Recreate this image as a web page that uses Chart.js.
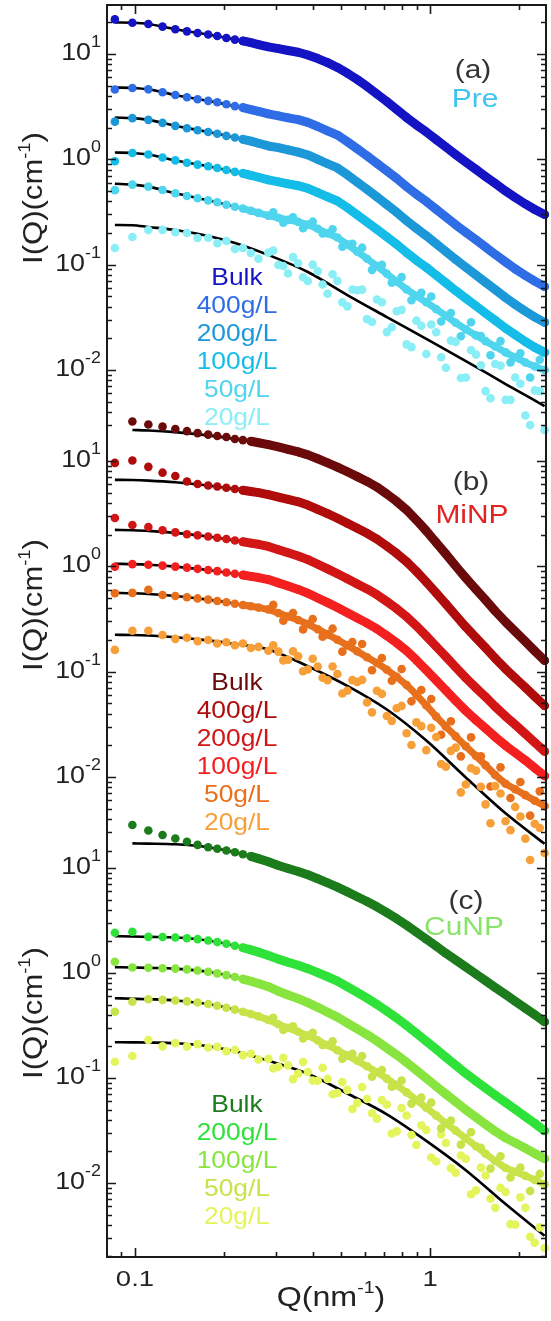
<!DOCTYPE html>
<html><head><meta charset="utf-8">
<script src="https://cdn.jsdelivr.net/npm/chart.js@4.4.1/dist/chart.umd.min.js"></script>
<style>html,body{margin:0;padding:0;background:#fff}#wrap{width:551px;height:1321px}</style>
</head><body><div id="wrap"><canvas id="c" width="551" height="1321"></canvas></div>
<script>
/* ---- data ---- */
const qGrid=[0.0855,0.098,0.111,0.124,0.137,0.150,0.163,0.177,0.190,0.204,0.218,0.232,0.247,0.262,0.283,0.306,0.330,0.357,0.385,0.416,0.449,0.485,0.524,0.566,0.611,0.660,0.713,0.770,0.832,0.898,0.970,1.048,1.13,1.22,1.32,1.43,1.54,1.66,1.80,1.94,2.10,2.26,2.44];
const qMid=[0.294,0.318,0.343,0.371,0.400,0.432,0.467,0.504,0.545,0.588,0.635,0.686,0.741,0.800,0.864,0.933,1.008,1.089,1.175,1.27,1.375,1.485,1.60,1.73,1.87,2.02,2.18,2.35];
const qFit=[0.0855,0.098,0.111,0.137,0.177,0.218,0.283,0.385,0.524,0.713,0.970,1.32,1.80,2.44];

// (a) Pre
const aBulk=[21.3,19.8,19.3,18.2,17.2,16.4,15.8,15.3,14.8,14.2,13.7,13.3,12.8,12.3,11.7,11.25,10.8,10.4,9.78,9.05,8.28,7.45,6.57,5.73,4.92,4.17,3.54,2.97,2.49,2.12,1.82,1.54,1.31,1.11,0.943,0.801,0.687,0.59,0.5,0.434,0.377,0.334,0.299];
const a400=[4.6,4.76,4.62,4.34,4.08,3.88,3.72,3.59,3.48,3.33,3.2,3.1,2.97,2.85,2.7,2.59,2.48,2.38,2.24,2.05,1.86,1.7,1.47,1.26,1.08,0.916,0.778,0.659,0.55,0.466,0.398,0.335,0.284,0.239,0.203,0.172,0.147,0.125,0.106,0.0912,0.0789,0.0697,0.0619];
const a200=[2.28,2.46,2.37,2.22,2.08,1.97,1.89,1.82,1.75,1.67,1.61,1.55,1.49,1.42,1.34,1.29,1.23,1.17,1.1,1.0,0.908,0.828,0.713,0.607,0.518,0.44,0.372,0.314,0.261,0.221,0.188,0.158,0.133,0.112,0.0945,0.0797,0.0679,0.0579,0.0486,0.0419,0.0361,0.0318,0.0283];
const a100=[0.96,1.15,1.11,1.04,0.977,0.929,0.891,0.859,0.827,0.791,0.76,0.736,0.705,0.676,0.638,0.612,0.585,0.562,0.531,0.483,0.44,0.402,0.348,0.297,0.254,0.216,0.184,0.156,0.13,0.11,0.0942,0.0794,0.0672,0.0566,0.0479,0.0405,0.0346,0.0296,0.0249,0.0216,0.0186,0.0164,0.0147];
const a50=[0.51,0.575,0.551,0.511,0.476,0.448,0.427,0.408,0.391,0.371,0.355,0.341,0.325,0.31,0.292,0.279,0.266,0.255,0.24,0.219,0.198,0.181,0.156,0.133,0.114,0.0968,0.082,0.0693,0.0582,0.0504,0.044,0.0378,0.0327,0.0281,0.0243,0.0213,0.0188,0.0167,0.0147,0.0132,0.0118,0.0108,0.01];
const a50x=[0.314,0.25,0.281,0.222,0.256,0.198,0.217,0.148,0.158,0.145,0.0893,0.0997,0.0675,0.0762,0.0459,0.054,0.0498,0.0289,0.0348,0.0209,0.0284,0.021,0.0138,0.0188,0.0118,0.0144,0.0085,0.0125];
const a20=[0.144,0.183,0.213,0.214,0.203,0.2,0.179,0.18,0.16,0.168,0.141,0.144,0.129,0.114,0.13,0.0994,0.0824,0.103,0.0699,0.0864,0.053,0.0702,0.0402,0.0571,0.0304,0.0467,0.0229,0.0361,0.0175,0.0294,0.0142,0.0228,0.0105,0.0185,0.0085,0.014,0.0063,0.0114,0.0052,0.0085,0.0037,0.0064,0.0027];
const a20x=[0.136,0.0972,0.118,0.0759,0.1,0.0649,0.081,0.0439,0.0582,0.058,0.0286,0.0439,0.0255,0.0372,0.0165,0.0263,0.027,0.0132,0.019,0.0084,0.0154,0.0111,0.0054,0.011,0.0052,0.0074,0.003,0.0063];
const aFit=[
 [19.9,19.8,19.3,17.2,15.3,13.7,11.7,9.78,6.57,3.54,1.82,0.943,0.5,0.299],
 [4.8,4.76,4.62,4.08,3.59,3.2,2.7,2.24,1.47,0.778,0.398,0.203,0.106,0.0619],
 [2.49,2.46,2.37,2.08,1.82,1.61,1.34,1.1,0.713,0.372,0.188,0.0945,0.0486,0.0283],
 [1.16,1.15,1.11,0.977,0.859,0.76,0.638,0.531,0.348,0.184,0.0942,0.0479,0.0249,0.0147],
 [0.587,0.575,0.551,0.476,0.408,0.355,0.292,0.24,0.156,0.082,0.044,0.0243,0.0147,0.01],
 [0.238,0.237,0.228,0.2134,0.187,0.1606,0.1235,0.0852,0.0515,0.0318,0.0197,0.01217,0.00736,0.00455]];

// (b) MiNP
const bBulk=[null,23.7,22.2,21.2,20.1,19.2,18.4,17.8,17.3,16.9,16.2,15.8,15.4,14.9,14.3,13.6,12.9,12.2,11.45,10.5,9.61,8.75,7.9,7.11,6.4,5.66,4.86,4.13,3.43,2.75,2.17,1.68,1.31,1.007,0.775,0.603,0.479,0.377,0.296,0.2405,0.1933,0.157,0.1276];
const b400=[9.6,10.1,8.8,7.75,7.2,6.4,6.05,5.86,5.72,5.57,5.42,5.28,5.14,5.01,4.8,4.55,4.33,4.1,3.82,3.47,3.16,2.86,2.56,2.296,2.058,1.816,1.558,1.326,1.106,0.895,0.71,0.559,0.44,0.342,0.266,0.2094,0.1684,0.1339,0.1062,0.0871,0.0707,0.058,0.0475];
const b200=[2.88,2.47,2.36,2.2,2.1,2.02,1.97,1.92,1.87,1.82,1.76,1.71,1.66,1.62,1.544,1.438,1.346,1.254,1.158,1.047,0.946,0.851,0.761,0.681,0.61,0.538,0.463,0.396,0.3325,0.2716,0.218,0.1734,0.1387,0.11,0.0873,0.0701,0.0576,0.0466,0.0377,0.03135,0.0257,0.02124,0.0175];
const b100=[0.99,1.05,1.036,1.016,0.994,0.972,0.947,0.923,0.901,0.875,0.849,0.827,0.804,0.783,0.749,0.697,0.65,0.604,0.556,0.501,0.452,0.406,0.362,0.323,0.289,0.255,0.2197,0.1877,0.1577,0.1288,0.1036,0.0828,0.0665,0.0531,0.0426,0.0347,0.029,0.024,0.0199,0.017,0.0144,0.0122,0.01025];
const b50=[0.556,0.56,0.6,0.534,0.523,0.509,0.496,0.483,0.469,0.456,0.442,0.43,0.418,0.406,0.39,0.36,0.334,0.309,0.283,0.253,0.226,0.201,0.1776,0.156,0.1372,0.121,0.1044,0.0892,0.0746,0.0603,0.0478,0.0374,0.0301,0.0243,0.0196,0.0158,0.01295,0.01044,0.00862,0.00764,0.00673,0.00596,0.0053];
const b50x=[0.431,0.305,0.36,0.252,0.316,0.215,0.256,0.155,0.191,0.183,0.103,0.135,0.082,0.106,0.0523,0.0671,0.055,0.0252,0.0338,0.0157,0.0238,0.0157,0.00812,0.01235,0.00632,0.00896,0.0043,0.00731];
const b20=[0.161,0.245,0.245,0.223,0.205,0.21,0.195,0.2,0.185,0.19,0.178,0.185,0.168,0.172,0.158,0.155,0.13,0.14,0.105,0.112,0.083,0.095,0.066,0.08,0.051,0.066,0.038,0.045,0.026,0.033,0.018,0.024,0.0125,0.019,0.0085,0.0115,0.0055,0.0082,0.0038,0.0052,0.0026,0.0036,0.0019];
const b20x=[0.178,0.128,0.156,0.101,0.1325,0.0877,0.112,0.062,0.0832,0.0836,0.0411,0.0615,0.0341,0.0473,0.0201,0.0304,0.0293,0.0133,0.0177,0.00715,0.0121,0.00809,0.00364,0.00697,0.00313,0.00422,0.00163,0.00328];
const bFit=[
 [null,19.7,19.5,18.8,17.5,16.2,14.3,11.45,7.9,4.86,2.17,0.775,0.296,0.1276],
 [6.62,6.6,6.52,6.29,5.86,5.42,4.8,3.82,2.56,1.558,0.71,0.266,0.1062,0.0475],
 [2.22,2.2,2.17,2.08,1.92,1.76,1.544,1.158,0.761,0.463,0.218,0.0873,0.0377,0.0175],
 [1.057,1.05,1.036,0.994,0.923,0.849,0.749,0.556,0.362,0.2197,0.1036,0.0426,0.0199,0.01025],
 [0.56,0.555,0.546,0.523,0.483,0.442,0.39,0.283,0.1776,0.1044,0.0478,0.0196,0.00862,0.0053],
 [0.224,0.223,0.2206,0.2126,0.1982,0.1831,0.1624,0.1127,0.0733,0.0437,0.0222,0.0099,0.00452,0.00232]];

// (c) CuNP
const cBulk=[null,25.7,22.8,20.6,19.1,17.8,16.6,15.75,15.24,14.68,14.11,13.51,12.9,12.29,11.46,10.56,9.89,9.26,8.62,7.91,7.23,6.57,5.92,5.33,4.8,4.27,3.75,3.29,2.85,2.45,2.1,1.8,1.54,1.33,1.14,0.976,0.843,0.728,0.623,0.539,0.462,0.401,0.343];
const c200=[2.42,2.47,2.21,2.2,2.18,2.14,2.1,2.04,1.97,1.9,1.82,1.74,1.66,1.58,1.47,1.355,1.266,1.185,1.1,1.009,0.921,0.836,0.74,0.653,0.575,0.503,0.433,0.373,0.316,0.267,0.224,0.188,0.1576,0.1323,0.1105,0.0932,0.0799,0.0687,0.0584,0.0503,0.0428,0.037,0.0314];
const c100=[1.28,1.128,1.12,1.111,1.101,1.082,1.056,1.026,0.991,0.954,0.915,0.876,0.835,0.795,0.74,0.671,0.618,0.57,0.522,0.471,0.423,0.38,0.334,0.294,0.259,0.225,0.1933,0.1657,0.1407,0.1185,0.0993,0.0832,0.0702,0.0593,0.0498,0.0422,0.0362,0.0311,0.0269,0.0241,0.0214,0.0191,0.017];
const c50=[0.428,0.533,0.562,0.555,0.548,0.537,0.523,0.506,0.487,0.467,0.448,0.427,0.407,0.386,0.358,0.325,0.3,0.276,0.253,0.228,0.206,0.184,0.1638,0.1458,0.1294,0.1136,0.0987,0.0853,0.073,0.0617,0.052,0.0439,0.0371,0.0315,0.0266,0.0224,0.019,0.0162,0.0139,0.0128,0.0117,0.0107,0.0097];
const c50x=[0.375,0.287,0.311,0.238,0.269,0.206,0.224,0.153,0.17,0.162,0.103,0.119,0.0826,0.0947,0.057,0.0651,0.0583,0.0331,0.0393,0.0232,0.0305,0.0216,0.0137,0.018,0.0113,0.014,0.0084,0.0122];
const c20=[0.143,0.162,0.23,0.2,0.215,0.2,0.21,0.195,0.198,0.18,0.186,0.165,0.17,0.15,0.152,0.128,0.132,0.11,0.114,0.094,0.098,0.072,0.077,0.058,0.063,0.041,0.056,0.031,0.044,0.023,0.032,0.016,0.024,0.0125,0.017,0.0085,0.0118,0.0058,0.0082,0.004,0.0058,0.0027,0.0024];
const c20x=[0.123,0.156,0.0976,0.142,0.0945,0.125,0.0699,0.0915,0.0507,0.0821,0.0462,0.0616,0.0296,0.0517,0.0286,0.0355,0.0175,0.029,0.0138,0.0183,0.0078,0.014,0.00709,0.009,0.00406,0.0073,0.00308,0.00378];
const cFit=[
 [null,17.15,17.08,16.82,15.75,14.11,11.46,8.62,5.92,3.75,2.1,1.14,0.623,0.343],
 [2.24,2.23,2.21,2.18,2.04,1.82,1.47,1.1,0.74,0.433,0.224,0.1105,0.0584,0.0314],
 [1.135,1.128,1.12,1.101,1.026,0.915,0.74,0.522,0.334,0.1933,0.0993,0.0498,0.0269,0.017],
 [0.575,0.569,0.563,0.548,0.506,0.448,0.358,0.253,0.1638,0.0987,0.052,0.0266,0.0139,0.0097],
 [0.219,0.2184,0.2175,0.2141,0.2005,0.1797,0.1459,0.1097,0.0712,0.0451,0.0252,0.01325,0.0063,0.00314]];

const namesA=['Bulk','400g/L','200g/L','100g/L','50g/L','20g/L'];
const namesB=['Bulk','400g/L','200g/L','100g/L','50g/L','20g/L'];
const namesC=['Bulk','200g/L','100g/L','50g/L','20g/L'];
const colA=['#1414c4','#2f6de6','#1c98d8','#14bde8','#4fd5ee','#8aeef6'];
const colB=['#6a0a0a','#b00c0c','#d21616','#f42020','#e8701c','#f7a03a'];
const colC=['#1c7c1c','#2ee23a','#88e43e','#c6e44a','#e4f45c'];
const expA=[1,0,-1,-2], expB=[1,0,-1,-2], expC=[1,0,-1,-2];
const xMajor=[0.1,1], xMinor=[0.09,0.2,0.3,0.4,0.5,0.6,0.7,0.8,0.9,2];
const xLabels=['0.1','1'];

/* ---- datasets ---- */
const FONT='"Liberation Sans", Arial, Helvetica, sans-serif';
function mk(q,ys){const o=[];q.forEach((x,i)=>{if(ys[i]!=null)o.push({x:x,y:ys[i]});});return o;}
const ds=[];
function series(ax,col,ys,lw){
  ds.push({data:mk(qGrid,ys),yAxisID:ax,pointRadius:4.3,pointBackgroundColor:col,pointBorderWidth:0,
    borderColor:col,borderWidth:lw,showLine:lw>0,borderJoinStyle:'round',borderCapStyle:'round',
    segment:{borderColor:c=>c.p0DataIndex<11?'rgba(0,0,0,0)':undefined},clip:false,order:1});
}
function extra(ax,col,ys){ds.push({data:mk(qMid,ys),yAxisID:ax,pointRadius:4.3,pointBackgroundColor:col,pointBorderWidth:0,showLine:false,clip:false,order:1});}
function fit(ax,ys){ds.push({data:mk(qFit,ys),yAxisID:ax,pointRadius:0,borderColor:'#000',borderWidth:2.6,showLine:true,cubicInterpolationMode:'monotone',clip:false,order:2});}

const lwA=[9,9,9,9,7,0], lwB=[9,9,9,9,7,0], lwC=[9,9,9,7,0];
[aBulk,a400,a200,a100,a50,a20].forEach((s,i)=>series('yA',colA[i],s,lwA[i]));
extra('yA',colA[4],a50x); extra('yA',colA[5],a20x); aFit.forEach(f=>fit('yA',f));
[bBulk,b400,b200,b100,b50,b20].forEach((s,i)=>series('yB',colB[i],s,lwB[i]));
extra('yB',colB[4],b50x); extra('yB',colB[5],b20x); bFit.forEach(f=>fit('yB',f));
[cBulk,c200,c100,c50,c20].forEach((s,i)=>series('yC',colC[i],s,lwC[i]));
extra('yC',colC[3],c50x); extra('yC',colC[4],c20x); cFit.forEach(f=>fit('yC',f));

/* ---- text + frame ---- */
function parts(ctx,ps,x,y,align,rot,sx){
  ctx.save(); ctx.translate(x,y); if(rot) ctx.rotate(rot);
  let w=0; ps.forEach(p=>{ctx.font=p.s+'px '+FONT; p.w=ctx.measureText(p.t).width*sx; w+=p.w;});
  let cx=align=='center'?-w/2:(align=='right'?-w:0);
  ps.forEach(p=>{ctx.save(); ctx.translate(cx,p.dy||0); ctx.scale(sx,1); ctx.font=p.s+'px '+FONT;
    ctx.fillStyle=p.c||'#222'; ctx.textAlign='left'; ctx.textBaseline='alphabetic'; ctx.fillText(p.t,0,0); ctx.restore(); cx+=p.w;});
  ctx.restore();
}
const decor={id:'decor',afterDraw(chart){
  const ctx=chart.ctx, ca=chart.chartArea, xs=chart.scales.x;
  ctx.save(); ctx.strokeStyle='#1a1a1a'; ctx.lineWidth=1.6;
  const yPanels=[[chart.scales.yA,expA],[chart.scales.yB,expB],[chart.scales.yC,expC]];
  yPanels.forEach(([s])=>{
    for(let e=Math.floor(Math.log10(s.min));e<=Math.ceil(Math.log10(s.max));e++) for(let m=1;m<=9;m++){
      const v=m*Math.pow(10,e); if(v<s.min||v>s.max) continue;
      const y=Math.round(s.getPixelForValue(v))+0.5, L=m==1?9:5;
      ctx.beginPath(); ctx.moveTo(ca.left,y); ctx.lineTo(ca.left+L,y); ctx.moveTo(ca.right,y); ctx.lineTo(ca.right-L,y); ctx.stroke();
    }
  });
  xMajor.concat(xMinor).forEach(v=>{
    const x=Math.round(xs.getPixelForValue(v))+0.5, L=xMajor.includes(v)?9:5;
    ctx.beginPath(); ctx.moveTo(x,ca.bottom); ctx.lineTo(x,ca.bottom-L); ctx.moveTo(x,ca.top); ctx.lineTo(x,ca.top+L); ctx.stroke();
  });
  ctx.lineWidth=2; ctx.strokeRect(ca.left,ca.top,ca.right-ca.left,ca.bottom-ca.top);
  ctx.restore();
  // y tick labels
  yPanels.forEach(([s,ex])=>ex.forEach(e=>{
    const y=s.getPixelForValue(Math.pow(10,e));
    parts(ctx,[{t:'10',s:24},{t:String(e),s:16,dy:-13}],101,y+6,'right',0,1.12);
  }));
  xMajor.forEach((v,i)=>parts(ctx,[{t:xLabels[i],s:22}],xs.getPixelForValue(v),1286,'center',0,1.25));
  // axis titles
  parts(ctx,[{t:'Q(nm',s:28},{t:'-1',s:17,dy:-13},{t:')',s:28}],331,1306,'center',0,1.15);
  [198,605,1013].forEach(cy=>parts(ctx,[{t:'I(Q)(cm',s:27},{t:'-1',s:16,dy:-12},{t:')',s:27}],42,cy,'center',-Math.PI/2,1.15));
  // panel tags
  parts(ctx,[{t:'(a)',s:26,c:'#333'}],473,78,'center',0,1.15);
  parts(ctx,[{t:'Pre',s:26,c:'#3ec4ee'}],475,107,'center',0,1.15);
  parts(ctx,[{t:'(b)',s:26,c:'#333'}],471,490,'center',0,1.15);
  parts(ctx,[{t:'MiNP',s:26,c:'#e02424'}],472,523,'center',0,1.15);
  parts(ctx,[{t:'(c)',s:26,c:'#333'}],466,909,'center',0,1.15);
  parts(ctx,[{t:'CuNP',s:26,c:'#88e468'}],464,935,'center',0,1.15);
  // sample labels
  [[namesA,colA,285],[namesB,colB,690],[namesC,colC,1112]].forEach(([nm,cl,y0])=>
    nm.forEach((t,i)=>parts(ctx,[{t:t,s:24,c:cl[i]}],237,y0+28*i,'center',0,1.1)));
}};

const yAxis=(min,max,w,wt)=>({type:'logarithmic',position:'left',stack:'panels',stackWeight:w,weight:wt,min:min,max:max,
  grid:{display:false},border:{display:false},ticks:{display:false},afterFit:s=>{s.width=107;}});
new Chart(document.getElementById('c'),{
  type:'scatter',
  data:{datasets:ds},
  options:{responsive:false,animation:false,devicePixelRatio:1,events:[],
    layout:{padding:{top:5,right:5,left:0,bottom:0}},
    plugins:{legend:{display:false},tooltip:{enabled:false}},
    scales:{
      x:{type:'logarithmic',position:'bottom',min:0.0804,max:2.467,grid:{display:false},border:{display:false},ticks:{display:false},afterFit:s=>{s.height=64;}},
      yA:yAxis(0.002165,29.19,435,3),
      yB:yAxis(0.00174,15.83,417,2),
      yC:yAxis(0.001973,12.73,400,1)
    }},
  plugins:[decor]
});
</script></body></html>
